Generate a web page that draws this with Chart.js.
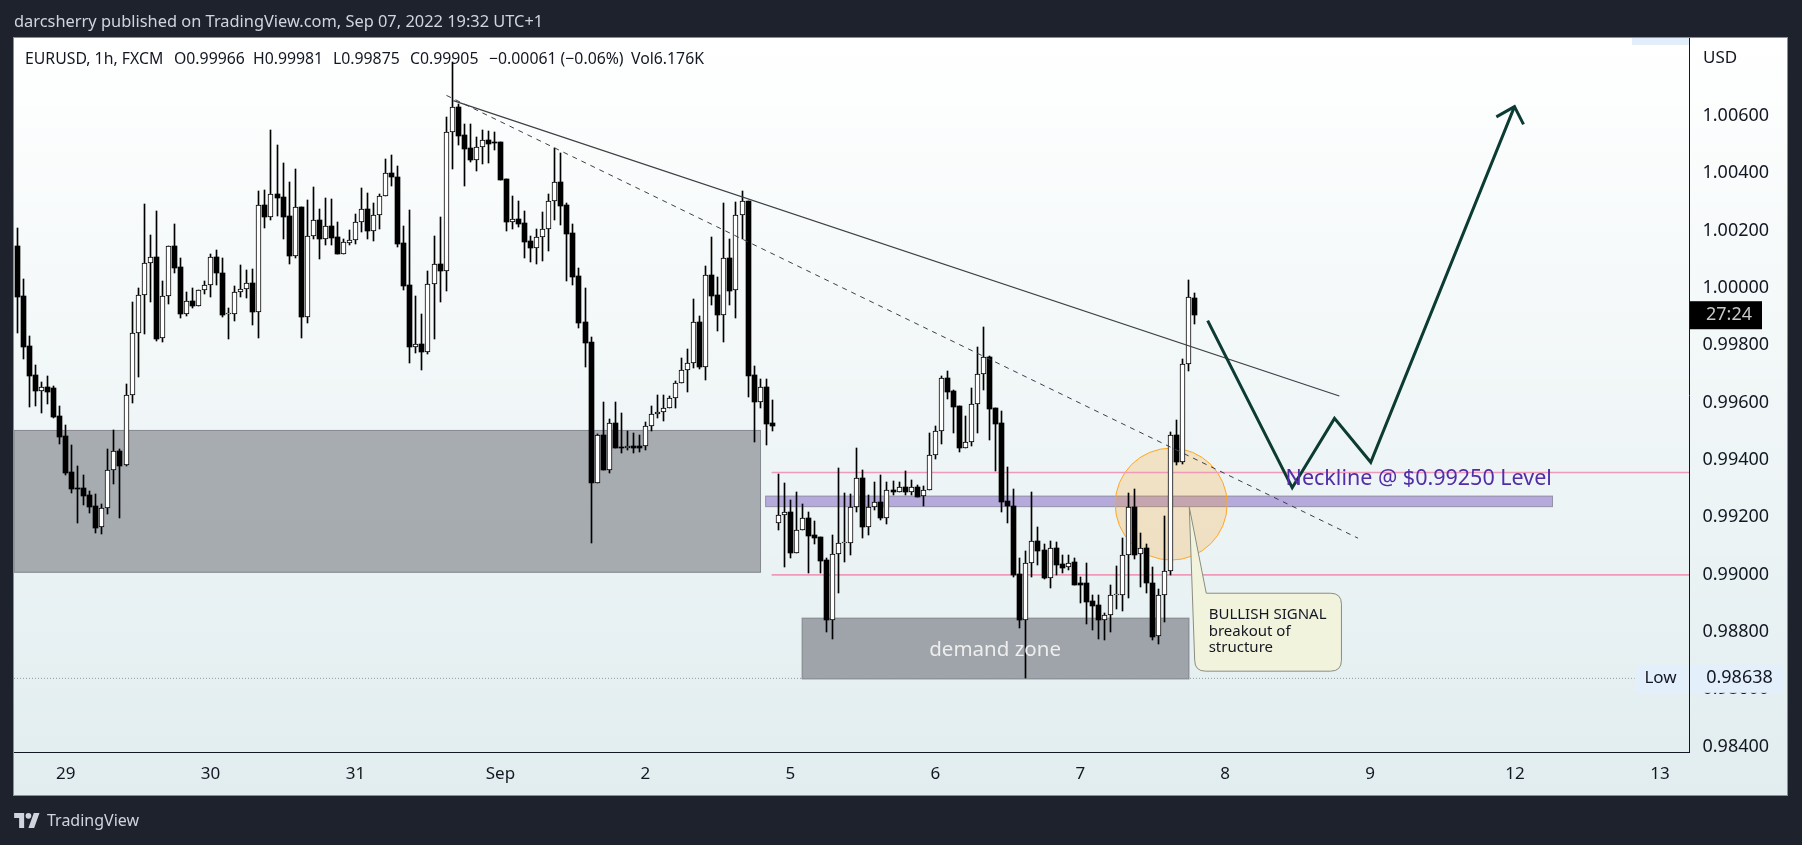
<!DOCTYPE html>
<html>
<head>
<meta charset="utf-8">
<title>EURUSD 1h</title>
<script src="https://cdn.jsdelivr.net/npm/chart.js@4"></script>
<style>
  html, body { margin:0; padding:0; width:1802px; height:845px; overflow:hidden; background:#1e222d; font-family:"Noto Sans",sans-serif; }
  #priceChart { position:absolute; left:0; top:0; }
  .txt { position:absolute; white-space:pre; line-height:1; }
  #published { left:14px; top:13px; font-size:16.4px; color:#d1d4dc; }
  .legend { top:51px; font-size:15.8px; color:#131722; }
  #brand { left:47px; top:812px; font-size:16px; color:#d1d4dc; }
  #logo { position:absolute; left:14px; top:813px; }
</style>
</head>
<body>
<canvas id="priceChart" width="1802" height="845"></canvas>
<div class="txt" id="published">darcsherry published on TradingView.com, Sep 07, 2022 19:32 UTC+1</div>
<div class="txt legend" style="left:25px">EURUSD, 1h, FXCM</div>
<div class="txt legend" style="left:174px">O0.99966</div>
<div class="txt legend" style="left:253px">H0.99981</div>
<div class="txt legend" style="left:333px">L0.99875</div>
<div class="txt legend" style="left:410px">C0.99905</div>
<div class="txt legend" style="left:489px">−0.00061 (−0.06%)</div>
<div class="txt legend" style="left:631px">Vol6.176K</div>
<svg id="logo" width="26" height="15" viewBox="0 4 36 21"><path fill="#d1d4dc" d="M14 25H7V11H0V4h14v21zM28 25h-8l7.5-21h8L28 25z"/><circle fill="#d1d4dc" cx="20" cy="8" r="4"/></svg>
<div class="txt" id="brand">TradingView</div>
<script>
// ---------------- Data ----------------
const opens = [
  1.00146,0.99972,0.99797,0.99696,0.99642,0.99653,0.99650,0.99553,0.99483,0.99357,
  0.99301,0.99302,0.99278,0.99239,0.99165,0.99234,0.99364,0.99430,0.99381,0.99625,
  0.99842,0.99974,1.00086,1.00107,0.99824,0.99971,1.00145,1.00073,0.99910,0.99953,
  0.99938,0.99992,1.00009,1.00107,1.00054,0.99908,0.99908,0.99985,0.99995,1.00016,
  0.99917,1.00288,1.00249,1.00327,1.00316,1.00250,1.00113,1.00281,0.99900,1.00180,
  1.00236,1.00172,1.00215,1.00177,1.00120,1.00158,1.00168,1.00232,1.00274,1.00200,
  1.00253,1.00320,1.00403,1.00389,1.00156,1.00009,0.99795,0.99803,0.99778,1.00013,
  1.00082,1.00060,1.00543,1.00630,1.00534,1.00488,1.00446,1.00491,1.00516,1.00507,
  1.00508,1.00379,1.00232,1.00240,1.00226,1.00163,1.00141,1.00177,1.00205,1.00303,
  1.00369,1.00289,1.00191,1.00041,0.99880,0.99811,0.99318,0.99486,0.99366,0.99528,
  0.99445,0.99441,0.99449,0.99449,0.99448,0.99518,0.99559,0.99566,0.99580,0.99615,
  0.99668,0.99713,0.99740,0.99880,0.99726,1.00044,0.99975,0.99907,1.00104,0.99992,
  1.00254,1.00304,0.99695,0.99603,0.99653,0.99529,0.99179,0.99207,0.99217,0.99077,
  0.99155,0.99196,0.99137,0.99130,0.99051,0.98843,0.99071,0.99109,0.99109,0.99235,
  0.99336,0.99167,0.99235,0.99255,0.99199,0.99294,0.99289,0.99305,0.99287,0.99305,
  0.99273,0.99294,0.99416,0.99500,0.99685,0.99640,0.99587,0.99441,0.99462,0.99594,
  0.99699,0.99758,0.99580,0.99528,0.99256,0.99240,0.99001,0.98843,0.99040,0.99116,
  0.99085,0.98988,0.99092,0.99036,0.99026,0.99043,0.98970,0.98970,0.98908,0.98893,
  0.98843,0.98860,0.98928,0.98928,0.99067,0.99235,0.99071,0.99092,0.98970,0.98785,
  0.98928,0.99012,0.99486,0.99394,0.99734,0.99966
];
const highs = [
  1.00208,1.00030,0.99831,0.99733,0.99671,0.99693,0.99658,0.99590,0.99521,0.99451,
  0.99378,0.99346,0.99291,0.99280,0.99248,0.99438,0.99504,0.99437,0.99665,0.99950,
  0.99999,1.00293,1.00185,1.00269,1.00024,1.00145,1.00225,1.00104,0.99986,0.99999,
  0.99992,1.00026,1.00118,1.00132,1.00104,0.99929,1.00007,1.00080,1.00063,1.00068,
  1.00338,1.00342,1.00551,1.00499,1.00436,1.00370,1.00414,1.00281,1.00307,1.00352,
  1.00275,1.00313,1.00310,1.00229,1.00171,1.00201,1.00258,1.00348,1.00330,1.00295,
  1.00327,1.00449,1.00463,1.00424,1.00215,1.00272,0.99971,0.99911,1.00058,1.00180,
  1.00246,1.00598,1.00790,1.00642,1.00572,1.00572,1.00526,1.00551,1.00549,1.00543,
  1.00508,1.00379,1.00321,1.00304,1.00269,1.00182,1.00205,1.00265,1.00328,1.00487,
  1.00470,1.00296,1.00222,1.00069,0.99999,0.99828,0.99490,0.99601,0.99542,0.99601,
  0.99564,0.99501,0.99494,0.99487,0.99531,0.99587,0.99627,0.99627,0.99623,0.99676,
  0.99756,0.99786,0.99961,0.99902,1.00076,1.00178,1.00037,1.00296,1.00170,1.00299,
  1.00339,1.00304,0.99727,0.99681,0.99681,0.99609,0.99351,0.99319,0.99260,0.99287,
  0.99246,0.99219,0.99187,0.99130,0.99057,0.99138,0.99372,0.99285,0.99281,0.99442,
  0.99364,0.99278,0.99322,0.99348,0.99323,0.99327,0.99323,0.99362,0.99330,0.99313,
  0.99309,0.99494,0.99519,0.99693,0.99710,0.99644,0.99587,0.99553,0.99652,0.99793,
  0.99864,0.99763,0.99580,0.99571,0.99375,0.99298,0.99057,0.99083,0.99288,0.99166,
  0.99106,0.99117,0.99114,0.99069,0.99069,0.99057,0.98993,0.99040,0.98928,0.98928,
  0.98865,0.98964,0.99030,0.99127,0.99284,0.99298,0.99144,0.99106,0.99027,0.98949,
  0.99204,0.99497,0.99538,0.99751,1.00027,0.99981
];
const lows = [
  0.99844,0.99753,0.99586,0.99588,0.99565,0.99595,0.99546,0.99457,0.99348,0.99286,
  0.99181,0.99243,0.99216,0.99146,0.99143,0.99212,0.99317,0.99198,0.99380,0.99600,
  0.99690,0.99840,0.99952,0.99816,0.99813,0.99945,1.00053,0.99896,0.99902,0.99931,
  0.99938,0.99980,0.99968,1.00011,0.99900,0.99823,0.99886,0.99968,0.99966,0.99872,
  0.99827,1.00210,1.00238,1.00251,1.00172,1.00085,1.00106,0.99827,0.99879,1.00172,
  1.00102,1.00151,1.00151,1.00120,1.00120,1.00151,1.00155,1.00196,1.00172,1.00165,
  1.00207,1.00320,1.00357,1.00144,0.99994,0.99739,0.99774,0.99715,0.99771,0.99823,
  0.99952,0.99991,1.00416,1.00499,1.00357,1.00439,1.00408,1.00432,1.00436,1.00482,
  1.00378,1.00200,1.00207,1.00214,1.00106,1.00091,1.00082,1.00094,1.00130,1.00239,
  1.00221,1.00026,1.00012,0.99862,0.99726,0.99109,0.99318,0.99366,0.99356,0.99443,
  0.99423,0.99433,0.99423,0.99428,0.99433,0.99502,0.99547,0.99537,0.99580,0.99583,
  0.99668,0.99638,0.99721,0.99719,0.99680,0.99941,0.99851,0.99813,0.99941,0.99897,
  1.00170,0.99621,0.99464,0.99581,0.99453,0.99501,0.99156,0.99028,0.99059,0.99077,
  0.99155,0.99007,0.99108,0.99007,0.98801,0.98777,0.98937,0.99045,0.99070,0.99217,
  0.99126,0.99139,0.99224,0.99192,0.99178,0.99276,0.99289,0.99276,0.99276,0.99272,
  0.99239,0.99294,0.99402,0.99456,0.99613,0.99495,0.99429,0.99441,0.99447,0.99495,
  0.99645,0.99471,0.99363,0.99220,0.99181,0.98992,0.98815,0.98638,0.98993,0.99034,
  0.98985,0.98953,0.98999,0.99006,0.99017,0.98962,0.98901,0.98829,0.98808,0.98777,
  0.98773,0.98801,0.98881,0.98874,0.98919,0.99055,0.98958,0.98937,0.98773,0.98759,
  0.98836,0.98998,0.99383,0.99387,0.99712,0.99875
];
const closes = [
  0.99970,0.99795,0.99694,0.99642,0.99653,0.99638,0.99551,0.99481,0.99355,0.99300,
  0.99300,0.99275,0.99237,0.99164,0.99234,0.99364,0.99430,0.99380,0.99625,0.99842,
  0.99974,1.00086,1.00107,0.99823,0.99971,1.00145,1.00071,0.99910,0.99953,0.99938,
  0.99992,1.00009,1.00107,1.00053,0.99907,0.99908,0.99985,0.99995,1.00016,0.99917,
  1.00288,1.00249,1.00327,1.00314,1.00249,1.00113,1.00281,0.99900,1.00180,1.00236,
  1.00172,1.00215,1.00175,1.00120,1.00159,1.00168,1.00232,1.00274,1.00200,1.00253,
  1.00320,1.00403,1.00388,1.00155,1.00008,0.99795,0.99803,0.99778,1.00013,1.00082,
  1.00060,1.00543,1.00630,1.00531,1.00485,1.00446,1.00491,1.00515,1.00502,1.00505,
  1.00378,1.00232,1.00240,1.00225,1.00162,1.00141,1.00177,1.00205,1.00303,1.00369,
  1.00287,1.00190,1.00040,0.99879,0.99809,0.99318,0.99486,0.99366,0.99528,0.99443,
  0.99440,0.99448,0.99443,0.99443,0.99518,0.99559,0.99566,0.99580,0.99615,0.99668,
  0.99713,0.99740,0.99880,0.99726,1.00044,0.99973,0.99907,1.00104,0.99991,1.00254,
  1.00302,0.99694,0.99603,0.99653,0.99526,0.99519,0.99207,0.99217,0.99077,0.99155,
  0.99196,0.99136,0.99129,0.99049,0.98843,0.99071,0.99109,0.99109,0.99235,0.99336,
  0.99167,0.99235,0.99255,0.99199,0.99294,0.99289,0.99305,0.99287,0.99305,0.99272,
  0.99294,0.99416,0.99500,0.99685,0.99638,0.99586,0.99441,0.99462,0.99594,0.99699,
  0.99758,0.99579,0.99527,0.99255,0.99238,0.98999,0.98843,0.99040,0.99116,0.99084,
  0.98988,0.99092,0.99034,0.99024,0.99042,0.98965,0.98965,0.98906,0.98892,0.98843,
  0.98860,0.98928,0.98928,0.99067,0.99235,0.99069,0.99092,0.98969,0.98784,0.98928,
  0.99012,0.99486,0.99392,0.99734,0.99968,0.99905
];

// x axis runs in candle numbers, day labels sit on the midnight candle
const dayTicks = [8,32,56,80,104,128,152,176,200,224,248,272];
const dayLabels = ["29","30","31","Sep","2","5","6","7","8","9","12","13"];
const priceTicks = [1.006,1.004,1.002,1,0.998,0.996,0.994,0.992,0.99,0.988,0.986,0.984];

// Drawings on the chart, [candle number, price]
const solidTrend = [[72.2,1.00654],[218.9,0.99623]];
const dashedTrend = [[71.06,1.00672],[222,0.99127]];
const upperPink = [[124.9,0.99356],[276.8,0.99356]];
const lowerPink = [[124.9,0.98999],[276.8,0.98999]];
const lowDots = [[-0.55,0.98638],[267.8,0.98638]];
const forecastPath = [[197.1,0.99886],[211.1,0.99303],[218.1,0.99545],[224.1,0.99392],[247.9,1.00633]];
const forecastHead = [[244.9,1.00597],[247.9,1.00633],[249.4,1.00571]];

// Boxes as [left candle, top price, right candle, bottom price]
const supplyBox = [-0.55,0.99503,123.06,0.99008];
const demandBox = [129.95,0.98848,194,0.98636];
const necklineBox = [123.9,0.99274,254.2,0.99237];
const calloutBox = [194.95,0.98935,219.25,0.98663];
const calloutTip = [194.06,0.99235];
const calloutNeck = 196.87;
const circleCentre = [191.06,0.99246];

const xMin = -0.55, xMax = 276.8;
const yMin = 0.98381, yMax = 1.008723;

const toPoints = list => list.map(p => ({x:p[0], y:p[1]}));

// ---------------- Candles ----------------
const wickData = opens.map((_,i) => ({x:i, y:[lows[i],highs[i]]}));
const upData = [], downData = [];
opens.forEach((o,i) => {
  if (closes[i] >= o) upData.push({x:i, y:[o,closes[i]]});
  else downData.push({x:i, y:[closes[i],o]});
});

function barSet(data, fill, order, thickness, border){
  return { type:'bar', data, backgroundColor:fill, borderColor:'#000000', borderWidth:border,
    borderSkipped:false, barThickness:thickness, grouped:false, minBarLength:1, order };
}
function lineSet(points, color, width, order, dash){
  return { type:'line', data:toPoints(points), borderColor:color, borderWidth:width, borderDash:dash||[],
    pointRadius:0, tension:0, fill:false, order };
}

// ---------------- Zones, circle, labels ----------------
function boxPixels(chart, box){
  const xs = chart.scales.x, ys = chart.scales.y;
  return { l:xs.getPixelForValue(box[0]), t:ys.getPixelForValue(box[1]), r:xs.getPixelForValue(box[2]), b:ys.getPixelForValue(box[3]) };
}
function drawBox(chart, box, fill, stroke){
  const p = boxPixels(chart, box), ctx = chart.ctx;
  ctx.fillStyle = fill;
  ctx.fillRect(p.l, p.t, p.r-p.l, p.b-p.t);
  ctx.strokeStyle = stroke;
  ctx.lineWidth = 1;
  ctx.strokeRect(p.l, p.t, p.r-p.l, p.b-p.t);
}
function drawCallout(chart){
  const ctx = chart.ctx, xs = chart.scales.x, ys = chart.scales.y;
  const p = boxPixels(chart, calloutBox), r = 11;
  ctx.beginPath();
  ctx.moveTo(xs.getPixelForValue(calloutTip[0]), ys.getPixelForValue(calloutTip[1]));
  ctx.lineTo(xs.getPixelForValue(calloutNeck), p.t);
  ctx.lineTo(p.r-r, p.t);
  ctx.quadraticCurveTo(p.r, p.t, p.r, p.t+r);
  ctx.lineTo(p.r, p.b-r);
  ctx.quadraticCurveTo(p.r, p.b, p.r-r, p.b);
  ctx.lineTo(p.l+r, p.b);
  ctx.quadraticCurveTo(p.l, p.b, p.l, p.b-r);
  ctx.closePath();
  ctx.fillStyle = '#f1f3dd';
  ctx.fill();
  ctx.strokeStyle = '#8a8d80';
  ctx.lineWidth = 1;
  ctx.stroke();
  ctx.fillStyle = '#131722';
  ctx.font = '15px "Noto Sans"';
  ctx.textAlign = 'left';
  ctx.textBaseline = 'middle';
  ctx.fillText('BULLISH SIGNAL', p.l+14, p.t+22);
  ctx.fillText('breakout of', p.l+14, p.t+38.5);
  ctx.fillText('structure', p.l+14, p.t+55);
}

// Candles sit on whole pixels like the original, otherwise 1px wicks go grey
function snapBars(chart){
  chart.getSortedVisibleDatasetMetas().forEach(meta => {
    if (meta.type !== 'bar') return;
    meta.data.forEach(el => {
      el.x = Math.floor(el.x) + 0.5;
      el.y = Math.round(el.y);
      el.base = Math.round(el.base);
    });
  });
}

const drawings = {
  id:'drawings',
  beforeDraw(chart){
    const ctx = chart.ctx;
    const g = ctx.createLinearGradient(0,38,0,795);
    g.addColorStop(0,'#ffffff');
    g.addColorStop(1,'#e1edef');
    ctx.save();
    ctx.fillStyle = g;
    ctx.fillRect(14,38,1773,757);
    ctx.strokeStyle = '#8b8f97';
    ctx.lineWidth = 1;
    ctx.strokeRect(13.5,37.5,1774,758);
    ctx.restore();
  },
  beforeDatasetsDraw(chart){
    const ctx = chart.ctx, a = chart.chartArea;
    snapBars(chart);
    ctx.save();
    ctx.beginPath();
    ctx.rect(a.left, a.top, a.right-a.left, a.bottom-a.top);
    ctx.clip();
    drawBox(chart, supplyBox, 'rgba(120,123,130,0.6)', 'rgba(120,123,130,0.85)');
    drawBox(chart, demandBox, 'rgba(120,123,130,0.65)', 'rgba(120,123,130,0.85)');
    drawBox(chart, necklineBox, 'rgba(103,58,183,0.4)', 'rgba(120,123,134,0.7)');
    // orange circle around the breakout
    ctx.beginPath();
    ctx.arc(chart.scales.x.getPixelForValue(circleCentre[0]), chart.scales.y.getPixelForValue(circleCentre[1]), 56, 0, Math.PI*2);
    ctx.fillStyle = 'rgba(255,152,0,0.2)';
    ctx.fill();
    ctx.strokeStyle = '#ffa726';
    ctx.lineWidth = 1;
    ctx.stroke();
    ctx.restore();
  },
  afterDatasetsDraw(chart){
    const ctx = chart.ctx, xs = chart.scales.x, ys = chart.scales.y;
    ctx.save();
    drawCallout(chart);
    ctx.textBaseline = 'middle';
    ctx.textAlign = 'center';
    ctx.fillStyle = '#eeeeee';
    ctx.font = '20.5px "Noto Sans"';
    ctx.fillText('demand zone', xs.getPixelForValue(161.9), ys.getPixelForValue(0.98737));
    ctx.textAlign = 'left';
    ctx.fillStyle = '#512da8';
    ctx.font = '21.5px "Noto Sans"';
    ctx.fillText('Neckline @ $0.99250 Level', xs.getPixelForValue(210), ys.getPixelForValue(0.99334));
    ctx.restore();
  },
  afterDraw(chart){
    const ctx = chart.ctx, ys = chart.scales.y;
    ctx.save();
    ctx.textBaseline = 'middle';
    // clipped High tag at the top edge
    ctx.fillStyle = '#e3eefb';
    ctx.fillRect(1632,38,57,7);
    // axis caption
    ctx.fillStyle = '#131722';
    ctx.font = '17px "Noto Sans"';
    ctx.textAlign = 'left';
    ctx.fillText('USD', 1703, 58);
    // countdown on the last price
    const last = ys.getPixelForValue(closes[closes.length-1]);
    ctx.fillStyle = '#000000';
    ctx.fillRect(1690, last-14, 72, 28);
    ctx.fillStyle = '#c8c8c8';
    ctx.textAlign = 'center';
    ctx.font = '18px "Noto Sans"';
    ctx.fillText('27:24', 1729, last);
    // Low tag
    const low = ys.getPixelForValue(Math.min(...lows));
    ctx.fillStyle = '#e3effa';
    ctx.fillRect(1635, low-14, 53, 28.5);
    ctx.fillRect(1690, low-14, 93, 28.5);
    ctx.fillStyle = '#131722';
    ctx.font = '17px "Noto Sans"';
    ctx.fillText('Low', 1660.5, low);
    ctx.font = '18px "Noto Sans"';
    ctx.fillText(Math.min(...lows).toFixed(5), 1739.5, low);
    ctx.restore();
  }
};

// ---------------- Chart ----------------
new Chart(document.getElementById('priceChart'), {
  type:'bar',
  plugins:[drawings],
  data:{
    datasets:[
      lineSet(upperPink,'#ef9ab9',1.6,10),
      lineSet(lowerPink,'#ef9ab9',1.6,10),
      lineSet(lowDots,'#8f9aa0',1,9,[1,2]),
      barSet(wickData,'#000000',6,1,0),
      barSet(downData,'#000000',5,5,0),
      barSet(upData,'#ffffff',4,5,1),
      lineSet(solidTrend,'#3c4046',1.2,3),
      lineSet(dashedTrend,'#3c4046',1,3,[5,5]),
      lineSet(forecastPath,'#0c3b32',3,1),
      lineSet(forecastHead,'#0c3b32',3,1)
    ]
  },
  options:{
    responsive:false,
    animation:false,
    layout:{ padding:{left:14, right:15, top:38, bottom:50} },
    plugins:{ legend:{display:false}, tooltip:{enabled:false} },
    scales:{
      x:{
        type:'linear', min:xMin, max:xMax, offset:false,
        grid:{display:false, drawTicks:false},
        border:{color:'#131722', width:1},
        afterBuildTicks(scale){ scale.ticks = dayTicks.map(v => ({value:v})); },
        afterFit(scale){ scale.height = 43; },
        ticks:{ autoSkip:false, maxRotation:0, padding:12, color:'#131722', font:{family:'"Noto Sans"', size:17},
          callback:(v,i) => dayLabels[i] }
      },
      y:{
        position:'right', min:yMin, max:yMax,
        grid:{display:false, drawTicks:false},
        border:{color:'#131722', width:1},
        afterBuildTicks(scale){ scale.ticks = priceTicks.map(v => ({value:v})); },
        afterFit(scale){ scale.width = 98; },
        ticks:{ autoSkip:false, padding:13.5, color:'#131722', font:{family:'"Noto Sans"', size:18},
          callback:v => v.toFixed(5) }
      }
    }
  }
});
</script>
</body>
</html>
